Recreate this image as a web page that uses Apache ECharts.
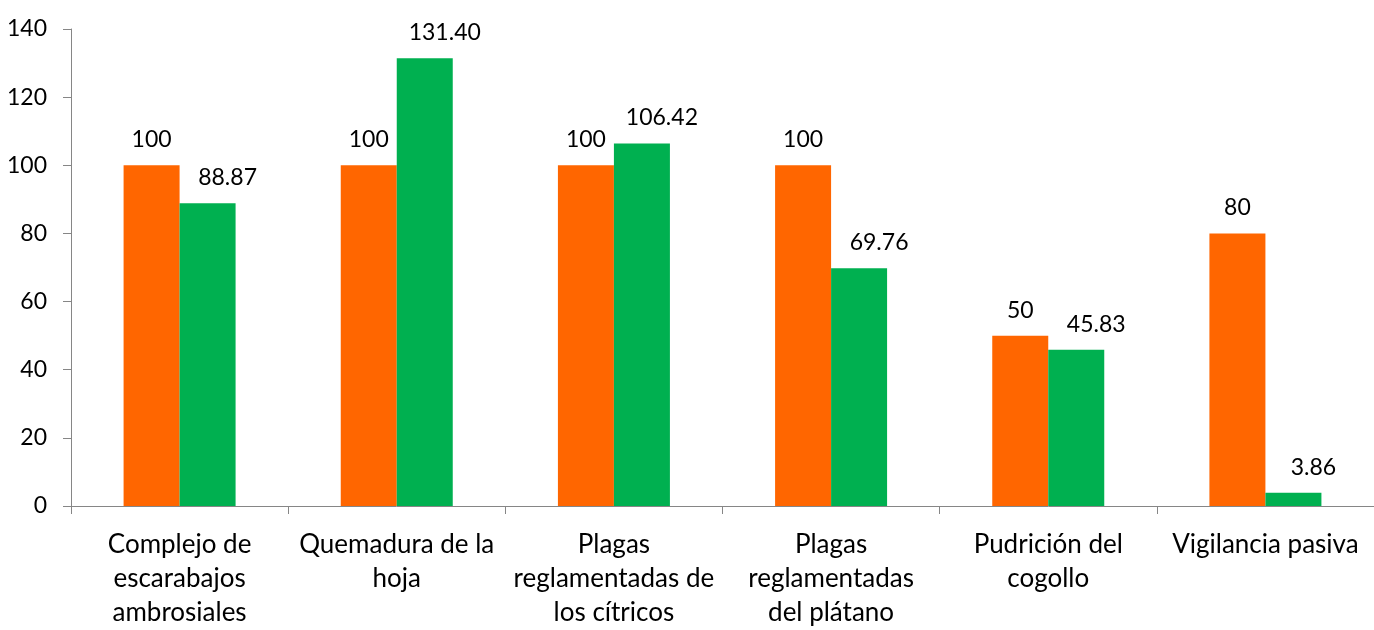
<!DOCTYPE html>
<html><head><meta charset="utf-8">
<script src="https://cdn.jsdelivr.net/npm/echarts@6/dist/echarts.min.js"></script>
<style>html,body{margin:0;padding:0;background:#fff}#c{width:1374px;height:630px}</style>
</head><body><div id="c"></div>
<script>
const categories = ["Complejo de\nescarabajos\nambrosiales","Quemadura de la\nhoja","Plagas\nreglamentadas de\nlos cítricos","Plagas\nreglamentadas\ndel plátano","Pudrición del\ncogollo","Vigilancia pasiva"];
const seriesA = [100,100,100,100,50,80];
const seriesB = [88.87,131.40,106.42,69.76,45.83,3.86];
const labelsB = ["88.87","131.40","106.42","69.76","45.83","3.86"];
const yTicks = [0,20,40,60,80,100,120,140];
const FONT = "Lato";
const chart = echarts.init(document.getElementById('c'));
chart.setOption({
  animation:false,
  textStyle:{fontFamily:FONT},
  grid:{left:71,top:29,width:1309,height:479,containLabel:false},
  xAxis:{type:'category',data:categories,
    axisLine:{lineStyle:{color:'#868686',width:1}},
    axisTick:{show:true,length:8,inside:false,lineStyle:{color:'#868686'}},
    axisLabel:{color:'#000',fontSize:26,fontFamily:FONT,lineHeight:34,margin:22,interval:0}},
  yAxis:{type:'value',min:0,max:140,interval:20,
    splitLine:{show:false},
    axisLine:{show:true,lineStyle:{color:'#868686'}},
    axisTick:{show:true,length:8,lineStyle:{color:'#868686'}},
    axisLabel:{color:'#000',fontSize:23,fontFamily:FONT,margin:24,
      formatter:v=>yTicks.includes(v)?String(v):''}},
  series:[
    {type:'bar',data:seriesA,barWidth:56,barGap:'0%',itemStyle:{color:'#FF6600'},
     label:{show:true,position:'top',distance:14,color:'#000',fontSize:23,fontFamily:FONT}},
    {type:'bar',data:seriesB,barWidth:56,itemStyle:{color:'#00B050'},
     label:{show:true,position:'top',distance:14,offset:[20,0],color:'#000',fontSize:23,fontFamily:FONT,
       formatter:p=>labelsB[p.dataIndex]}}
  ]
});
</script></body></html>
